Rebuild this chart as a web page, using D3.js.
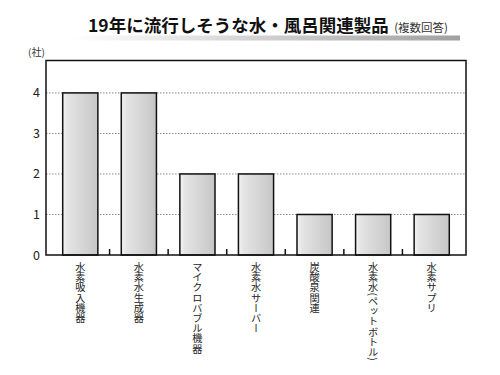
<!DOCTYPE html>
<html><head><meta charset="utf-8">
<script src="https://cdn.jsdelivr.net/npm/d3@7"></script>
<style>body{margin:0;background:#fff}svg{display:block}</style>
</head><body>
<svg id="c" width="500" height="375"></svg>
<script>
const categories = ["水素吸入機器","水素水生成器","マイクロバブル機器","水素水サーバー","炭酸泉関連","水素水(ペットボトル)","水素サプリ"];
const values = [4,4,2,2,1,1,1];
const yTicks = [0,1,2,3,4];
const titleText = "19年に流行しそうな水・風呂関連製品";
const subText = "(複数回答)";
const unitText = "(社)";

const svg = d3.select("#c");
const font = "'Noto Sans CJK JP','Noto Sans',sans-serif";
const L=46, R=466, T=60.5, B=255;
const x = d3.scaleBand().domain(categories).range([51,461]).paddingInner(0.4).paddingOuter(0.2);
const y = d3.scaleLinear().domain([0,4.8]).range([B,T]);

const defs = svg.append("defs");
const g1 = defs.append("linearGradient").attr("id","barg");
g1.append("stop").attr("offset","0").attr("stop-color","#f3f3f3");
g1.append("stop").attr("offset","0.15").attr("stop-color","#e4e4e4");
g1.append("stop").attr("offset","1").attr("stop-color","#c6c6c6");
const g2 = defs.append("linearGradient").attr("id","tg");
g2.append("stop").attr("offset","0").attr("stop-color","#ffffff");
g2.append("stop").attr("offset","1").attr("stop-color","#a0a0a0");

// title band
svg.append("rect").attr("x",72).attr("y",35.5).attr("width",388).attr("height",5).attr("fill","url(#tg)");
svg.append("text").attr("x",88).attr("y",32).attr("font-family",font).attr("font-weight","bold")
  .attr("font-size",17.5).attr("fill","#111").text(titleText);
svg.append("text").attr("x",448).attr("y",32).attr("text-anchor","end").attr("font-family",font)
  .attr("font-size",11.5).attr("fill","#333").text(subText);

// grid
svg.append("g").selectAll("line").data(yTicks.filter(d=>d>0)).join("line")
  .attr("x1",L).attr("x2",R).attr("y1",d=>y(d)).attr("y2",d=>y(d))
  .attr("stroke","#888").attr("stroke-width",1).attr("stroke-dasharray","1.5,1.5");

// bars
svg.append("g").selectAll("rect").data(values).join("rect")
  .attr("x",(d,i)=>x(categories[i])).attr("y",d=>y(d))
  .attr("width",x.bandwidth()).attr("height",d=>B-y(d))
  .attr("fill","url(#barg)").attr("stroke","#111").attr("stroke-width",1.5);

// category separator ticks
const step = x.step();
svg.append("g").selectAll("line").data(categories.slice(0,-1)).join("line")
  .attr("x1",d=>x(d)+x.bandwidth()+step*x.paddingInner()/2)
  .attr("x2",d=>x(d)+x.bandwidth()+step*x.paddingInner()/2)
  .attr("y1",B).attr("y2",B-6).attr("stroke","#111").attr("stroke-width",1.5);

// frame
svg.append("rect").attr("x",L).attr("y",T).attr("width",R-L).attr("height",B-T)
  .attr("fill","none").attr("stroke","#111").attr("stroke-width",1.5);

// y axis labels
const yAxis = d3.axisLeft(y).tickValues(yTicks).tickSize(0).tickPadding(6).tickFormat(d3.format("d"));
const ya = svg.append("g").attr("transform",`translate(${L},0)`).call(yAxis);
ya.select(".domain").remove();
ya.selectAll("text").attr("font-family",font).attr("font-size",12.5).attr("fill","#222");

svg.append("text").attr("x",28).attr("y",56).attr("font-family",font).attr("font-size",10).attr("fill","#333").text(unitText);

// category labels vertical
svg.append("g").selectAll("text").data(categories).join("text")
  .attr("x",d=>x(d)+x.bandwidth()/2).attr("y",262)
  .style("writing-mode","vertical-rl").style("text-orientation","mixed")
  .attr("font-family",font).attr("font-size",10.2).attr("fill","#222")
  .text(d=>d);
</script>
</body></html>
